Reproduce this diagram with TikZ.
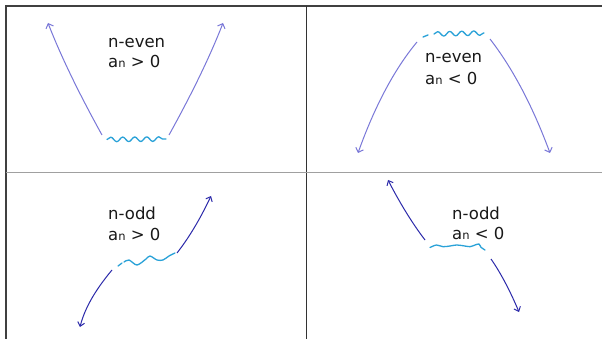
\documentclass[tikz,border=0pt]{standalone}
\usepackage{fontspec}
\setmainfont{DejaVu Sans}
\usetikzlibrary{arrows.meta,decorations.pathmorphing}
\definecolor{lightcurve}{HTML}{7A78D8}
\definecolor{darkcurve}{HTML}{2C2AAA}
\definecolor{wavecol}{HTML}{2AA2D8}
\definecolor{midline}{HTML}{A0A0A0}
\definecolor{frameline}{HTML}{404040}
\tikzset{
  lbl/.style={anchor=base west, inner sep=0pt, font=\fontsize{16.5}{18}\selectfont, text=black!90},
  upcurve/.style={draw=lightcurve, line width=1pt, -{Straight Barb[length=4pt,width=8pt]}},
  lowcurve/.style={draw=darkcurve, line width=1pt, -{Straight Barb[length=4pt,width=7pt]}},
  wave/.style={draw=wavecol, line width=1.3pt, line cap=round, line join=round},
  snakeline/.style={wave, decorate, decoration={snake, segment length=12pt, amplitude=2.3pt}},
}
\newcommand{\asub}[1]{a{\fontsize{11.5}{11.5}\selectfont n} #1 0}
\begin{document}
\begin{tikzpicture}[x=1pt,y=-1pt]
\useasboundingbox (0,0) rectangle (602,339);
\fill[white] (0,0) rectangle (602,339);
% frame
\draw[frameline, line width=1.2pt] (6,339) -- (6,6) -- (602,6);
\draw[black!80, line width=1pt] (306,6) -- (306,339);
\draw[midline, line width=1.8pt] (6,172.5) -- (602,172.5);

% ---------- top-left: n-even, a_n > 0
\node[lbl] (t1a) at (108,47.5) {n-even};
\node[lbl] (t1b) at (108,68) {\asub{>}};
\coordinate (a1s) at (102,135); \coordinate (a1e) at (48,23);
\coordinate (b1s) at (169,135); \coordinate (b1e) at (223,23);
\draw[upcurve] (a1s) .. controls (78.7,93) and (60.7,55.7) .. (a1e);
\draw[upcurve] (b1s) .. controls (192.3,93) and (210.3,55.7) .. (b1e);
\draw[snakeline] (107,139.5) -- (166,139);

% ---------- top-right: n-even, a_n < 0
\node[lbl] (t2a) at (425,63) {n-even};
\node[lbl] (t2b) at (425,85) {\asub{<}};
\coordinate (a2s) at (417,42); \coordinate (a2e) at (358,153);
\coordinate (b2s) at (490,39); \coordinate (b2e) at (550,153);
\draw[upcurve] (a2s) .. controls (394.3,69.3) and (374.7,106.3) .. (a2e);
\draw[upcurve] (b2s) .. controls (512.7,68.3) and (532.7,106.3) .. (b2e);
\draw[wave] (423,37) -- (428,35);
\draw[snakeline] (434,34) -- (484,33);

% ---------- bottom-left: n-odd, a_n > 0
\node[lbl] (t3a) at (108,219) {n-odd};
\node[lbl] (t3b) at (108,240) {\asub{>}};
\coordinate (a3s) at (177,253); \coordinate (a3e) at (211,196);
\coordinate (b3s) at (112,270); \coordinate (b3e) at (80,327);
\draw[lowcurve] (a3s) .. controls (189,237.7) and (200.3,218.7) .. (a3e);
\draw[lowcurve] (b3s) .. controls (95.3,290) and (84.7,308.3) .. (b3e);
\draw[wave] (118,266) -- (122,263);
\draw[wave] plot[smooth, tension=0.5] coordinates {(124,262) (129,260) (137,265) (146,259) (150,256) (157,260) (163,260) (169,256) (175,253)};

% ---------- bottom-right: n-odd, a_n < 0
\node[lbl] (t4a) at (452,219) {n-odd};
\node[lbl] (t4b) at (452,239) {\asub{<}};
\coordinate (a4s) at (425,240); \coordinate (a4e) at (388,180);
\coordinate (b4s) at (491,259); \coordinate (b4e) at (519,312);
\draw[lowcurve] (a4s) .. controls (412.3,223.3) and (400,203.3) .. (a4e);
\draw[lowcurve] (b4s) .. controls (500.3,272.3) and (509.7,290) .. (b4e);
\draw[wave] plot[smooth, tension=0.5] coordinates {(430,247.5) (436.5,245) (443,246.7) (450,246) (456.5,245) (463,245.7) (470,246.7) (475,245) (479,244) (481,247.3) (485,250)};
\end{tikzpicture}
\end{document}
